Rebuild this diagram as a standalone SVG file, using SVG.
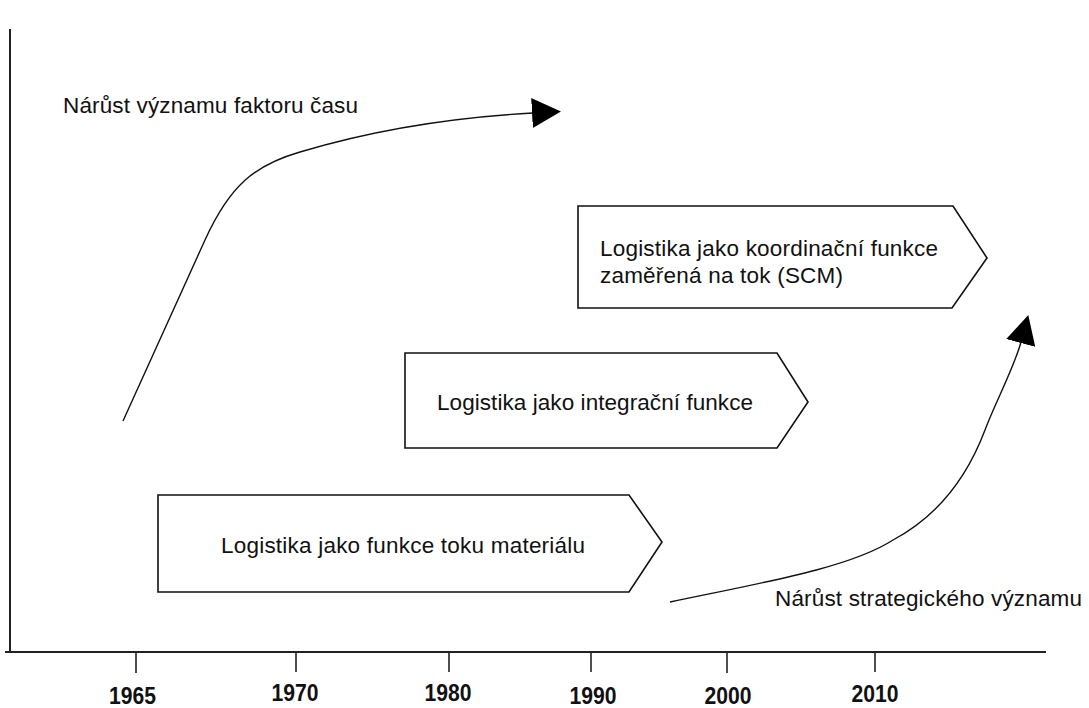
<svg xmlns="http://www.w3.org/2000/svg" width="1089" height="708" viewBox="0 0 1089 708">
  <style>
    .axis { stroke: #222; stroke-width: 2; fill: none; }
    .tick { stroke: #222; stroke-width: 1.6; }
    .year { font-family: "Liberation Sans", Arial, sans-serif; font-weight: bold; font-size: 24px; fill: #111; text-anchor: middle; }
    .box { fill: #fff; stroke: #111; stroke-width: 1.6; stroke-linejoin: miter; }
    .lbl { font-family: "Liberation Sans", Arial, sans-serif; font-size: 22.5px; fill: #111; }
    .trend { fill: none; stroke: #111; stroke-width: 1.4; }
  </style>
  <defs>
    <marker id="head" markerUnits="userSpaceOnUse" markerWidth="32" markerHeight="32" refX="1" refY="15" orient="auto">
      <path d="M0,0 L29,15 L0,30 z" fill="#000"/>
    </marker>
  </defs>

  <rect width="1089" height="708" fill="#fff"/>

  <!-- time axis -->
  <g id="axes">
    <line class="axis" x1="10" y1="29" x2="10" y2="653"/>
    <line class="axis" x1="5" y1="652" x2="1046" y2="652"/>
    <line class="tick" x1="136" y1="652" x2="136" y2="673"/>
    <line class="tick" x1="296" y1="652" x2="296" y2="672"/>
    <line class="tick" x1="449" y1="652" x2="449" y2="672"/>
    <line class="tick" x1="591" y1="652" x2="591" y2="672"/>
    <line class="tick" x1="727" y1="652" x2="727" y2="673"/>
    <line class="tick" x1="875" y1="652" x2="875" y2="672"/>
    <text class="year" x="132.5" y="704" textLength="47" lengthAdjust="spacingAndGlyphs">1965</text>
    <text class="year" x="295" y="701" textLength="47" lengthAdjust="spacingAndGlyphs">1970</text>
    <text class="year" x="448" y="701" textLength="47" lengthAdjust="spacingAndGlyphs">1980</text>
    <text class="year" x="593" y="704" textLength="47" lengthAdjust="spacingAndGlyphs">1990</text>
    <text class="year" x="728" y="704" textLength="47" lengthAdjust="spacingAndGlyphs">2000</text>
    <text class="year" x="875" y="702" textLength="47" lengthAdjust="spacingAndGlyphs">2010</text>
  </g>

  <!-- phase arrows -->
  <g id="phase-material">
    <polygon class="box" points="158,495 629,495 662,542 629,592 158,592"/>
    <text class="lbl" x="221" y="553" textLength="364">Logistika jako funkce toku materiálu</text>
  </g>
  <g id="phase-integration">
    <polygon class="box" points="405,353 777,353 808,402 777,448 405,448"/>
    <text class="lbl" x="437" y="410" textLength="316">Logistika jako integrační funkce</text>
  </g>
  <g id="phase-scm">
    <polygon class="box" points="578,206 953,206 987,258 952,308 578,308"/>
    <text class="lbl" x="600" y="256" textLength="338">Logistika jako koordinační funkce</text>
    <text class="lbl" x="600" y="283" textLength="243">zaměřená na tok (SCM)</text>
  </g>

  <!-- trend curves -->
  <g id="connectors">
    <path class="trend" marker-end="url(#head)" d="M123,421 L205,240 C230,185 255,165 300,152 C380,128 460,117 533,113"/>
    <path class="trend" marker-end="url(#head)" d="M670,602 C760,583 850,568 893,540 C940,515 968,475 985,430 C995,403 1014,368 1021,342"/>
  </g>

  <g id="label-time">
    <text class="lbl" x="63" y="113" textLength="295">Nárůst významu faktoru času</text>
  </g>
  <g id="label-strategy">
    <text class="lbl" x="775" y="606" textLength="307">Nárůst strategického významu</text>
  </g>
</svg>
